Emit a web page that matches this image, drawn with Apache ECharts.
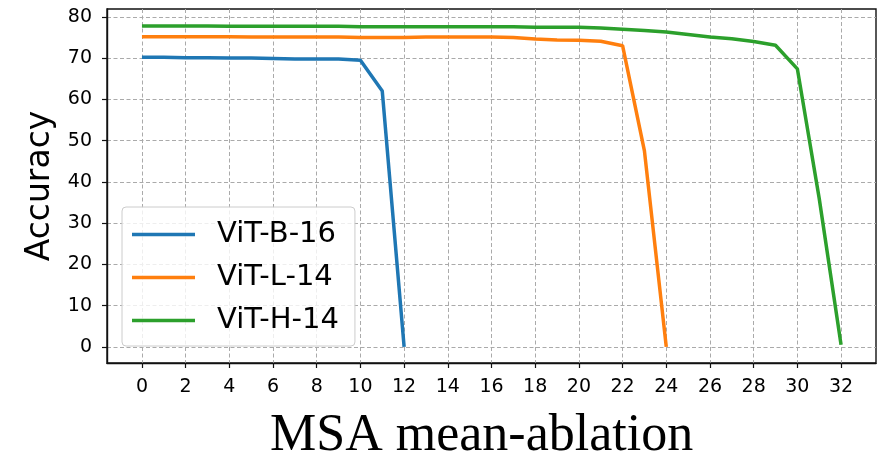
<!DOCTYPE html>
<html>
<head>
<meta charset="utf-8">
<script src="https://cdn.jsdelivr.net/npm/echarts@6/dist/echarts.min.js"></script>
<style>
  html, body { margin: 0; padding: 0; background: #ffffff; }
  #chart { width: 880px; height: 451px; }
</style>
</head>
<body>
<div id="chart"></div>
<script>
// MSA mean-ablation accuracy per number of ablated layers
var layers = [0, 1, 2, 3, 4, 5, 6, 7, 8, 9, 10, 11, 12, 13, 14, 15, 16,
              17, 18, 19, 20, 21, 22, 23, 24, 25, 26, 27, 28, 29, 30, 31, 32];
var vitB16 = [70.2, 70.2, 70.1, 70.1, 70.0, 70.0, 69.9, 69.8, 69.8, 69.8, 69.5, 62.0, 0];
var vitL14 = [75.2, 75.2, 75.2, 75.2, 75.2, 75.1, 75.1, 75.1, 75.1, 75.1, 75.0, 75.0, 75.0,
              75.1, 75.1, 75.1, 75.1, 75.0, 74.6, 74.4, 74.3, 74.1, 73.0, 47.5, 0];
var vitH14 = [77.8, 77.8, 77.8, 77.8, 77.7, 77.7, 77.7, 77.7, 77.7, 77.7, 77.6, 77.6, 77.6,
              77.6, 77.6, 77.6, 77.6, 77.6, 77.5, 77.5, 77.5, 77.3, 77.0, 76.7, 76.3, 75.7,
              75.1, 74.7, 74.0, 73.1, 67.4, 36.0, 0.5];
var xTicks = [0, 2, 4, 6, 8, 10, 12, 14, 16, 18, 20, 22, 24, 26, 28, 30, 32];
var yTicks = [0, 10, 20, 30, 40, 50, 60, 70, 80];

function pairs(vals) {
    return vals.map(function (v, i) { return [layers[i], v]; });
}

var chart = echarts.init(document.getElementById('chart'));
var gridLine = { show: true, lineStyle: { color: '#aaaaaa', width: 1, type: [4, 2.5] } };
var spine = { show: true, onZero: false, lineStyle: { color: '#111', width: 1.4 } };

var option = {
    animation: false,
    backgroundColor: '#ffffff',
    title: {
        text: 'MSA mean-ablation',
        left: 270,
        top: 410,
        padding: 0,
        textStyle: {
            fontFamily: 'Liberation Serif',
            fontWeight: 'normal',
            fontSize: 52,
            lineHeight: 52,
            color: '#000'
        }
    },
    grid: {
        left: 107,
        right: 4,
        top: 9,
        bottom: 88,
        show: true,
        borderColor: '#111',
        borderWidth: 1.4
    },
    legend: {
        orient: 'vertical',
        left: 122,
        top: 207,
        padding: [13, 16, 11, 10],
        icon: 'rect',
        itemWidth: 63,
        itemHeight: 3.5,
        itemGap: 14,
        backgroundColor: 'rgba(255,255,255,0.8)',
        borderColor: '#cccccc',
        borderWidth: 1,
        borderRadius: 4,
        textStyle: {
            fontFamily: 'DejaVu Sans',
            fontSize: 29,
            color: '#000',
            padding: [0, 0, 0, 17]
        },
        data: ['ViT-B-16', 'ViT-L-14', 'ViT-H-14']
    },
    xAxis: {
        type: 'value',
        min: -1.6,
        max: 33.6,
        axisLine: spine,
        axisTick: { show: true, length: 5, lineStyle: { color: '#111', width: 1.2 }, customValues: xTicks },
        axisLabel: {
            customValues: xTicks,
            margin: 15,
            fontFamily: 'DejaVu Sans',
            fontSize: 19,
            color: '#000'
        },
        splitLine: gridLine
    },
    yAxis: {
        type: 'value',
        min: -3.9,
        max: 81.9,
        name: 'Accuracy',
        nameLocation: 'middle',
        nameRotate: 90,
        nameGap: 49,
        nameTextStyle: {
            fontFamily: 'DejaVu Sans',
            fontSize: 33,
            color: '#000'
        },
        axisLine: spine,
        axisTick: { show: true, length: 5, lineStyle: { color: '#111', width: 1.2 }, customValues: yTicks },
        axisLabel: {
            customValues: yTicks,
            margin: 15,
            fontFamily: 'DejaVu Sans',
            fontSize: 19,
            color: '#000'
        },
        splitLine: gridLine
    },
    series: [
        {
            name: 'ViT-B-16', type: 'line', symbol: 'none',
            lineStyle: { color: '#1f77b4', width: 3.5 }, itemStyle: { color: '#1f77b4' },
            data: pairs(vitB16)
        },
        {
            name: 'ViT-L-14', type: 'line', symbol: 'none',
            lineStyle: { color: '#ff7f0e', width: 3.5 }, itemStyle: { color: '#ff7f0e' },
            data: pairs(vitL14)
        },
        {
            name: 'ViT-H-14', type: 'line', symbol: 'none',
            lineStyle: { color: '#2ca02c', width: 3.5 }, itemStyle: { color: '#2ca02c' },
            data: pairs(vitH14)
        }
    ]
};
chart.setOption(option);
</script>
</body>
</html>
